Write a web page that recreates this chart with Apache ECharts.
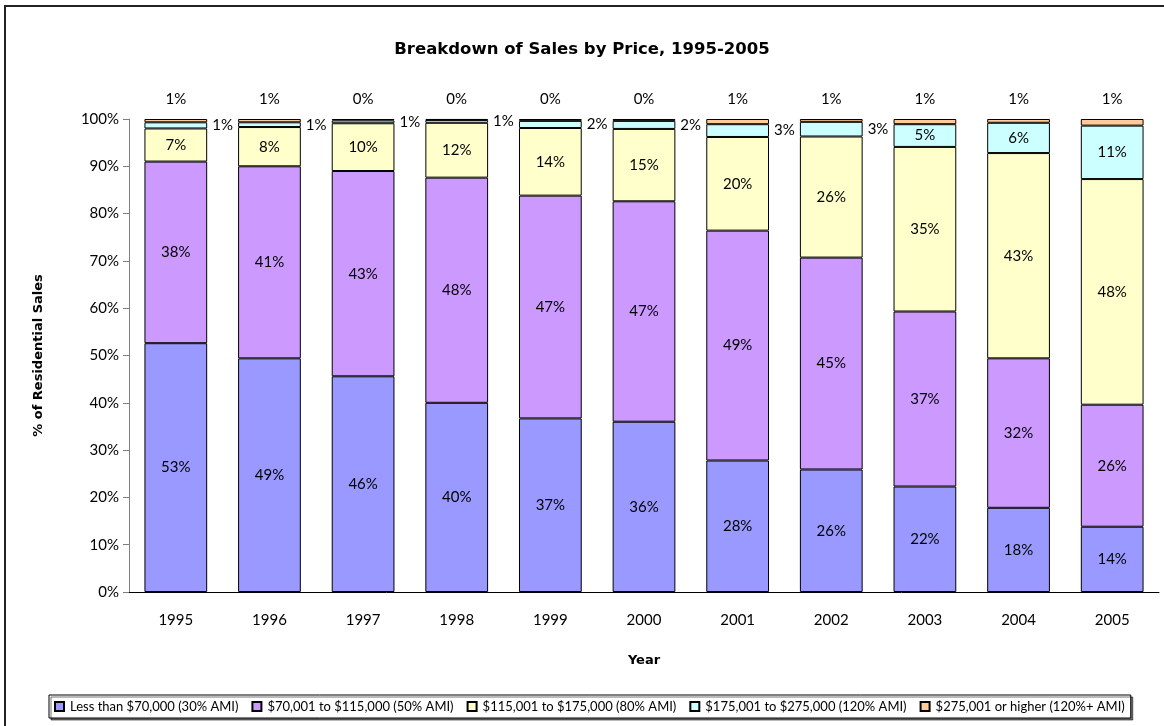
<!DOCTYPE html>
<html>
<head>
<meta charset="utf-8">
<title>Breakdown of Sales by Price, 1995-2005</title>
<script src="https://cdn.jsdelivr.net/npm/echarts@6/dist/echarts.min.js"></script>
<style>
    html, body { margin: 0; padding: 0; background: #fff; }
    #sales-chart { width: 1164px; height: 726px; }
</style>
</head>
<body>
<div id="sales-chart"></div>
<script>
// data (share of residential sales, %)
var years = ['1995', '1996', '1997', '1998', '1999', '2000', '2001', '2002', '2003', '2004', '2005'];
var under70k = [52.6, 49.4, 45.6, 40.0, 36.7, 36.0, 27.8, 25.9, 22.3, 17.8, 13.8];
var from70to115k = [38.4, 40.6, 43.4, 47.6, 47.1, 46.6, 48.6, 44.8, 37.0, 31.6, 25.8];
var from115to175k = [7.0, 8.3, 10.1, 11.6, 14.3, 15.3, 19.8, 25.6, 34.8, 43.4, 47.7];
var from175to275k = [1.3, 1.0, 0.6, 0.6, 1.5, 1.7, 2.7, 3.1, 4.8, 6.4, 11.3];
var over275k = [0.7, 0.7, 0.3, 0.2, 0.4, 0.4, 1.1, 0.6, 1.1, 0.8, 1.4];
var seriesNames = [
    'Less than $70,000 (30% AMI)',
    '$70,001 to $115,000 (50% AMI)',
    '$115,001 to $175,000 (80% AMI)',
    '$175,001 to $275,000 (120% AMI)',
    '$275,001 or higher (120%+ AMI)'
];
var yTicks = [0, 10, 20, 30, 40, 50, 60, 70, 80, 90, 100];

var FONT = 'Lato';
var BOLD_FONT = 'DejaVu Sans';

function pct(p) {
    return Math.round(p.value) + '%';
}

function makeSeries(name, values, color, label) {
    return {
        name: name,
        type: 'bar',
        stack: 'total',
        barCategoryGap: '33%',
        itemStyle: { color: color, borderColor: '#000', borderWidth: 1 },
        label: Object.assign({
            show: true,
            position: 'inside',
            formatter: pct,
            color: '#000',
            fontFamily: FONT,
            fontSize: 15
        }, label || {}),
        data: values
    };
}

// thin segments in the first bars get their label beside the bar
var lightBlueData = from175to275k.map(function (v, i) {
    return i < 8 ? { value: v, label: { position: 'right', distance: 5 } } : v;
});

var chart = echarts.init(document.getElementById('sales-chart'));
var option = {
    animation: false,
    backgroundColor: '#fff',
    textStyle: { fontFamily: FONT },
    title: {
        text: 'Breakdown of Sales by Price, 1995-2005',
        left: 'center',
        top: 36,
        textStyle: { fontFamily: BOLD_FONT, fontSize: 16.5, fontWeight: 'bold', color: '#000' }
    },
    graphic: [{
        type: 'rect',
        shape: { x: 5, y: 6, width: 1180, height: 740 },
        style: { fill: 'none', stroke: '#222', lineWidth: 2 },
        silent: true
    }],
    legend: {
        bottom: 8,
        left: 49,
        icon: 'rect',
        itemWidth: 9,
        itemHeight: 9,
        itemGap: 13,
        padding: [5, 6, 5, 5],
        borderColor: '#000',
        borderWidth: 1,
        backgroundColor: '#fff',
        shadowColor: 'rgba(0,0,0,0.55)',
        shadowOffsetX: 2,
        shadowOffsetY: 2,
        shadowBlur: 0,
        textStyle: { fontFamily: FONT, fontSize: 13, color: '#000', padding: [0, 0, 0, 1] },
        data: seriesNames
    },
    grid: {
        left: 129,
        right: 5,
        top: 119,
        bottom: 134
    },
    xAxis: {
        type: 'category',
        data: years,
        name: 'Year',
        nameLocation: 'middle',
        nameGap: 62,
        nameTextStyle: { fontFamily: BOLD_FONT, fontSize: 13, fontWeight: 'bold', color: '#000' },
        axisLine: { lineStyle: { color: '#000', width: 1 } },
        axisTick: { length: 6, lineStyle: { color: '#000' } },
        axisLabel: { margin: 21, fontFamily: FONT, fontSize: 15, color: '#000' }
    },
    yAxis: {
        type: 'value',
        min: yTicks[0],
        max: yTicks[yTicks.length - 1],
        interval: 10,
        name: '% of Residential Sales',
        nameLocation: 'middle',
        nameRotate: 90,
        nameGap: 84,
        nameTextStyle: { fontFamily: BOLD_FONT, fontSize: 13, fontWeight: 'bold', color: '#000' },
        axisLine: { show: true, lineStyle: { color: '#808080', width: 1 } },
        axisTick: { show: true, length: 6, lineStyle: { color: '#808080' } },
        splitLine: { show: false },
        axisLabel: { margin: 10, formatter: '{value}%', fontFamily: FONT, fontSize: 15, color: '#000' }
    },
    series: [
        makeSeries(seriesNames[0], under70k, '#9999FF'),
        makeSeries(seriesNames[1], from70to115k, '#CC99FF'),
        makeSeries(seriesNames[2], from115to175k, '#FFFFCC'),
        makeSeries(seriesNames[3], lightBlueData, '#CCFFFF'),
        makeSeries(seriesNames[4], over275k, '#FFCC99', { position: 'top', distance: 12 })
    ]
};
chart.setOption(option);
</script>
</body>
</html>
